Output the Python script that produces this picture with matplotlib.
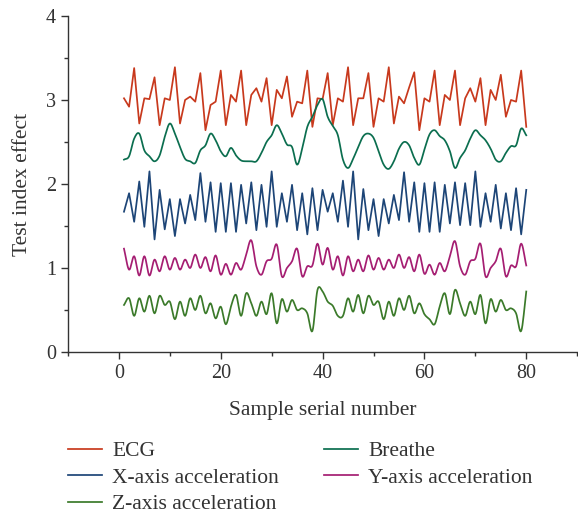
import numpy as np
import matplotlib
matplotlib.use("Agg")
import matplotlib.pyplot as plt
from matplotlib.ticker import MultipleLocator

plt.rcParams["font.family"] = ["Liberation Serif", "DejaVu Serif"]

samples = np.arange(1, 81)

ecg = [
    3.02, 2.92, 3.38, 2.72, 3.02, 3.01, 3.27, 2.70, 3.02, 3.00,
    3.39, 2.72, 3.00, 3.04, 2.98, 3.32, 2.64, 2.94, 2.98, 3.35,
    2.70, 3.06, 2.98, 3.35, 2.70, 3.06, 3.14, 2.98, 3.26, 2.70,
    3.12, 3.02, 3.28, 2.80, 2.98, 2.96, 3.35, 2.68, 3.02, 3.01,
    3.32, 2.70, 3.02, 2.98, 3.39, 2.70, 3.02, 3.02, 3.32, 2.68,
    3.02, 2.98, 3.39, 2.72, 3.04, 2.96, 3.15, 3.33, 2.64, 3.02,
    2.98, 3.35, 2.70, 3.06, 3.00, 3.35, 2.70, 3.02, 3.14, 2.98,
    3.26, 2.70, 3.12, 3.00, 3.30, 2.80, 3.00, 2.98, 3.35, 2.68,
]

breathe = [
    2.29, 2.33, 2.54, 2.60, 2.40, 2.33, 2.27, 2.34, 2.56, 2.72,
    2.60, 2.44, 2.30, 2.27, 2.25, 2.40, 2.46, 2.60, 2.52, 2.39,
    2.33, 2.43, 2.34, 2.28, 2.27, 2.27, 2.27, 2.37, 2.50, 2.58,
    2.70, 2.60, 2.47, 2.44, 2.23, 2.42, 2.68, 2.80, 2.94, 3.01,
    2.80, 2.69, 2.58, 2.29, 2.19, 2.30, 2.44, 2.57, 2.60, 2.55,
    2.39, 2.23, 2.18, 2.27, 2.42, 2.50, 2.46, 2.31, 2.23, 2.41,
    2.59, 2.64, 2.57, 2.52, 2.39, 2.19, 2.31, 2.40, 2.54, 2.64,
    2.58, 2.52, 2.42, 2.29, 2.27, 2.37, 2.45, 2.46, 2.66, 2.58,
]

x_acc = [
    1.67, 1.89, 1.55, 2.03, 1.49, 2.15, 1.34, 1.93, 1.46, 1.82,
    1.38, 1.82, 1.53, 1.87, 1.57, 2.13, 1.55, 2.02, 1.43, 2.01,
    1.43, 2.01, 1.43, 1.99, 1.53, 2.02, 1.45, 1.99, 1.49, 2.15,
    1.49, 1.89, 1.55, 1.99, 1.45, 1.89, 1.40, 1.95, 1.45, 1.93,
    1.67, 1.89, 1.55, 2.04, 1.49, 2.15, 1.34, 1.94, 1.45, 1.82,
    1.38, 1.82, 1.53, 1.87, 1.57, 2.14, 1.55, 2.02, 1.43, 2.01,
    1.43, 2.02, 1.43, 1.99, 1.53, 2.02, 1.51, 2.01, 1.51, 2.15,
    1.49, 1.89, 1.55, 1.99, 1.47, 1.89, 1.45, 1.95, 1.40, 1.93,
]

y_acc = [
    1.23, 0.98, 1.14, 0.91, 1.14, 0.91, 1.10, 0.96, 1.14, 0.98,
    1.12, 0.98, 1.10, 1.00, 1.16, 1.00, 1.13, 0.96, 1.15, 0.92,
    1.05, 0.92, 1.06, 0.98, 1.16, 1.33, 1.02, 0.92, 1.08, 1.11,
    1.28, 0.90, 1.00, 1.08, 1.23, 0.90, 1.02, 1.03, 1.29, 1.04,
    1.24, 0.98, 1.14, 0.91, 1.14, 0.96, 1.10, 0.96, 1.15, 0.98,
    1.12, 0.98, 1.10, 1.00, 1.16, 1.00, 1.13, 0.96, 1.16, 0.93,
    1.04, 0.92, 1.06, 0.96, 1.14, 1.32, 1.02, 0.92, 1.08, 1.11,
    1.29, 0.90, 1.00, 1.08, 1.23, 0.90, 1.03, 1.02, 1.29, 1.03,
]

z_acc = [
    0.56, 0.64, 0.43, 0.64, 0.48, 0.67, 0.46, 0.67, 0.56, 0.60,
    0.39, 0.60, 0.43, 0.64, 0.50, 0.67, 0.46, 0.58, 0.40, 0.54,
    0.33, 0.54, 0.68, 0.43, 0.70, 0.58, 0.43, 0.60, 0.45, 0.70,
    0.34, 0.63, 0.48, 0.62, 0.50, 0.52, 0.46, 0.25, 0.74, 0.72,
    0.60, 0.55, 0.43, 0.43, 0.64, 0.48, 0.68, 0.46, 0.67, 0.56,
    0.60, 0.39, 0.60, 0.43, 0.64, 0.50, 0.67, 0.46, 0.58, 0.45,
    0.39, 0.33, 0.54, 0.70, 0.45, 0.74, 0.58, 0.43, 0.60, 0.45,
    0.68, 0.34, 0.63, 0.48, 0.62, 0.50, 0.52, 0.46, 0.25, 0.72,
]

# name, values, colour, smoothed curve or straight segments
series = [
    ("ECG", ecg, "#c8391d", False),
    ("Breathe", breathe, "#0b6e4f", True),
    ("X-axis acceleration", x_acc, "#1d4577", False),
    ("Y-axis acceleration", y_acc, "#a51e72", True),
    ("Z-axis acceleration", z_acc, "#3b7a2a", True),
]


def smooth(x, y, n=8):
    """Catmull-Rom curve through the points, for a softer line."""
    x = np.asarray(x, float)
    y = np.asarray(y, float)
    px = np.concatenate([[2 * x[0] - x[1]], x, [2 * x[-1] - x[-2]]])
    py = np.concatenate([[2 * y[0] - y[1]], y, [2 * y[-1] - y[-2]]])
    t = np.linspace(0, 1, n, endpoint=False)
    xs, ys = [], []
    for i in range(1, len(px) - 2):
        for p, out in ((px, xs), (py, ys)):
            p0, p1, p2, p3 = p[i - 1], p[i], p[i + 1], p[i + 2]
            out.extend(0.5 * (2 * p1 + (-p0 + p2) * t
                              + (2 * p0 - 5 * p1 + 4 * p2 - p3) * t ** 2
                              + (-p0 + 3 * p1 - 3 * p2 + p3) * t ** 3))
    xs.append(x[-1])
    ys.append(y[-1])
    return np.array(xs), np.array(ys)


fig = plt.figure(figsize=(5.78, 5.15), dpi=100)
ax = fig.add_axes([0.1176, 0.3165, 0.881, 0.6525])

handles = {}
for name, vals, color, curved in series:
    sx, sy = smooth(samples, vals) if curved else (samples, vals)
    (ln,) = ax.plot(sx, sy, color=color, lw=1.25, label=name)
    handles[name] = ln

ax.set_xlim(-10, 90)
ax.set_ylim(0, 4)
ax.xaxis.set_major_locator(MultipleLocator(20))
ax.xaxis.set_minor_locator(MultipleLocator(10))
ax.yaxis.set_major_locator(MultipleLocator(1))
ax.yaxis.set_minor_locator(MultipleLocator(0.5))
ax.spines["top"].set_visible(False)
ax.spines["right"].set_visible(False)
for s in ("left", "bottom"):
    ax.spines[s].set_color("#333333")
    ax.spines[s].set_linewidth(1.0)
ax.tick_params(which="major", direction="out", length=5, width=1.0,
               colors="#333333", labelsize=14.5, labelcolor="#333333")
ax.tick_params(which="minor", direction="out", length=3, width=1.0,
               colors="#333333")

ax.set_xlabel("Sample serial number", fontsize=15.5, color="#333333", labelpad=13)
ax.set_ylabel("Test index effect", fontsize=15.5, color="#333333", labelpad=10)

# legend filled column by column: left column ECG / X / Z, right Breathe / Y
col1 = ["ECG", "X-axis acceleration", "Z-axis acceleration"]
col2 = ["Breathe", "Y-axis acceleration"]
leg = fig.legend([handles[n] for n in col1 + col2], col1 + col2,
                 loc="upper left", bbox_to_anchor=(0.118, 0.143),
                 ncol=2, frameon=False, fontsize=15.5, handlelength=1.55,
                 columnspacing=2.1, labelspacing=0.3, handletextpad=0.5,
                 borderaxespad=0, borderpad=0, bbox_transform=fig.transFigure)
for t in leg.get_texts():
    t.set_color("#333333")

fig.savefig("out.png", dpi=100)
